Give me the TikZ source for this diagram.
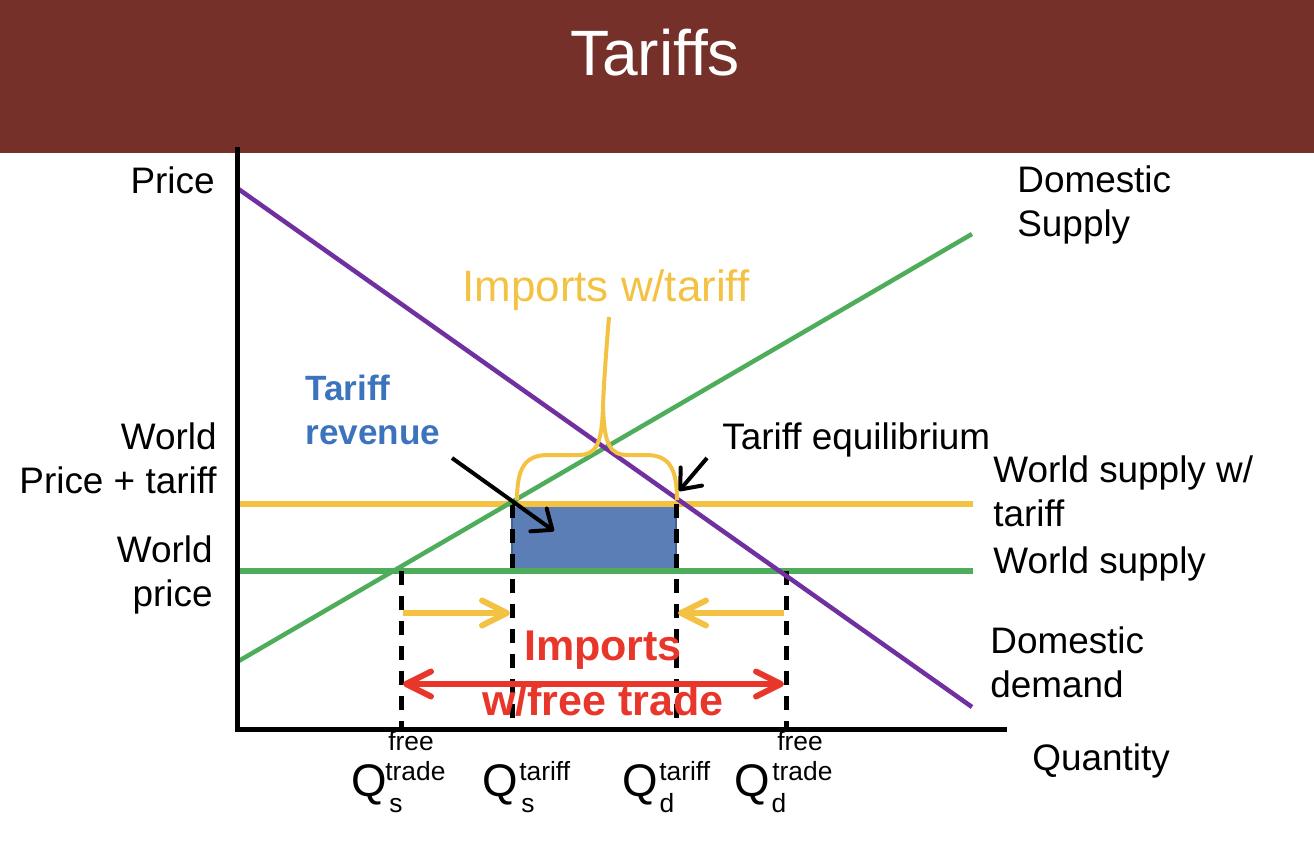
\documentclass[tikz,border=0pt]{standalone}
\usepackage{fontspec}
\setmainfont{Liberation Sans}
\usetikzlibrary{arrows.meta}
\definecolor{titlebg}{HTML}{76302A}
\definecolor{dem}{HTML}{7030A0}
\definecolor{sup}{HTML}{4EAD5B}
\definecolor{gold}{HTML}{F4C242}
\definecolor{rev}{HTML}{5A7EB5}
\definecolor{revedge}{HTML}{41618F}
\definecolor{revtxt}{HTML}{3B73BD}
\definecolor{imp}{HTML}{E8362B}
\tikzset{
  lbl/.style={inner sep=0pt, font=\fontsize{21}{25}\selectfont},
  qbig/.style={inner sep=0pt, font=\fontsize{26}{30}\selectfont},
  qsml/.style={inner sep=0pt, font=\fontsize{15}{17}\selectfont},
  axisline/.style={line width=0.1cm, black},
  curve/.style={line width=0.09cm},
  worldline/.style={line width=0.13cm},
  dropline/.style={line width=0.1cm, black, dash pattern=on 0.28cm off 0.22cm},
  barb/.style={-{Straight Barb[length=0.5cm, width=0.5cm, round]}},
  dblbarb/.style={{Straight Barb[length=0.5cm, width=0.5cm, round]}-{Straight Barb[length=0.5cm, width=0.5cm, round]}},
  pointer/.style={line width=0.08cm, black, -{Straight Barb[length=0.34cm, width=0.56cm, round]}},
}
\begin{document}
\begin{tikzpicture}[x=0.02cm, y=-0.02cm]
\useasboundingbox (0,0) rectangle (1314,848);
% title bar
\fill[titlebg] (0,0) rectangle (1314,153);
\node[inner sep=0pt, text=white, font=\fontsize{36.5}{42}\selectfont, anchor=base] (title) at (655,76) {Tariffs};

% coordinates
\coordinate (O) at (237,729);
\coordinate (ytop) at (237,147);
\coordinate (xend) at (1007,729);
\coordinate (dA) at (237,188);
\coordinate (dB) at (972,707);
\coordinate (sA) at (237,662);
\coordinate (sB) at (972,234);
\coordinate (wtA) at (237,504);
\coordinate (wtB) at (973,504);
\coordinate (wA) at (237,571);
\coordinate (wB) at (973,571);

% tariff revenue rectangle
\filldraw[fill=rev, draw=revedge, line width=0.04cm] (512,504) rectangle (676,571);

% world lines
\draw[worldline, gold] (wtA) -- (wtB);
\draw[worldline, sup] (wA) -- (wB);

% dashed drop lines
\coordinate (q1t) at (401,571); \coordinate (q1b) at (401,727);
\coordinate (q2t) at (512,504); \coordinate (q2b) at (512,727);
\coordinate (q3t) at (676,504); \coordinate (q3b) at (676,727);
\coordinate (q4t) at (786,571); \coordinate (q4b) at (786,727);
\draw[dropline] (q1t) -- (q1b);
\draw[dropline] (q2t) -- (q2b);
\draw[dropline] (q3t) -- (q3b);
\draw[dropline] (q4t) -- (q4b);

% supply and demand
\draw[curve, sup] (sA) -- (sB);
\draw[curve, dem] (dA) -- (dB);

% axes
\draw[axisline] (ytop) -- (O) -- (xend);

% yellow arrows
\coordinate (ya1) at (403,613); \coordinate (ya2) at (510,613);
\coordinate (yb1) at (784,613); \coordinate (yb2) at (678,613);
\draw[gold, line width=0.12cm, barb] (ya1) -- (ya2);
\draw[gold, line width=0.12cm, barb] (yb1) -- (yb2);

% red double arrow
\coordinate (ra1) at (403,684); \coordinate (ra2) at (784,684);
\draw[imp, line width=0.12cm, dblbarb] (ra1) -- (ra2);

% brace
\coordinate (brL) at (517,500);
\coordinate (brR) at (677,500);
\coordinate (brTip) at (609,317);
\draw[gold, line width=0.08cm, line join=round]
  (brL) .. controls (517,468) and (525,455) .. (548,455) -- (578,455)
  .. controls (596,455) and (602,445) .. (603,405)
  .. controls (604,380) and (607,340) .. (brTip);
\draw[gold, line width=0.08cm, line join=round]
  (brR) .. controls (677,468) and (669,455) .. (646,455) -- (628,455)
  .. controls (610,455) and (604,445) .. (603,405);

% pointers
\coordinate (revS) at (452,458); \coordinate (revT) at (554,531);
\draw[pointer] (revS) -- (revT);
\coordinate (eqS) at (707,458); \coordinate (eqT) at (679,491);
\draw[pointer] (eqS) -- (eqT);

% left labels
\node[lbl, anchor=base east] (price) at (215,193) {Price};
\node[lbl, anchor=base east] (wpt1) at (217,449) {World};
\node[lbl, anchor=base east] (wpt2) at (217,493) {Price + tariff};
\node[lbl, anchor=base east] (wp1) at (213,562) {World};
\node[lbl, anchor=base east] (wp2) at (213,606) {price};

% right labels
\node[lbl, anchor=base west] (ds1) at (1017,192) {Domestic};
\node[lbl, anchor=base west] (ds2) at (1017,236) {Supply};
\node[lbl, anchor=base west] (wst1) at (993,482) {World supply w/};
\node[lbl, anchor=base west] (wst2) at (993,526) {tariff};
\node[lbl, anchor=base west] (ws) at (993,573) {World supply};
\node[lbl, anchor=base west] (dd1) at (990,653) {Domestic};
\node[lbl, anchor=base west] (dd2) at (990,697) {demand};
\node[lbl, anchor=base west] (qty) at (1032,770) {Quantity};

% middle labels
\node[inner sep=0pt, text=gold, font=\fontsize{25}{29}\selectfont, anchor=base] (impt) at (606,301) {Imports w/tariff};
\node[inner sep=0pt, text=revtxt, font=\bfseries\fontsize{20}{24}\selectfont, anchor=base west] (tr1) at (305,400) {Tariff};
\node[inner sep=0pt, text=revtxt, font=\bfseries\fontsize{20}{24}\selectfont, anchor=base west] (tr2) at (305,444) {revenue};
\node[lbl, anchor=base west] (teq) at (722,449) {Tariff equilibrium};
\node[inner sep=0pt, text=imp, font=\bfseries\fontsize{24.5}{28}\selectfont, anchor=base] (ift1) at (603,660) {Imports};
\node[inner sep=0pt, text=imp, font=\bfseries\fontsize{24.5}{28}\selectfont, anchor=base] (ift2) at (603,715) {w/free trade};

% Q labels
\node[qbig, anchor=base] (Q1) at (369,796) {Q};
\node[qsml, anchor=base] (Q1s) at (396,812) {s};
\node[qsml, anchor=base west] (Q1a) at (385,780) {trade};
\node[qsml, anchor=base west] (Q1b) at (388,750) {free};

\node[qbig, anchor=base] (Q2) at (500,796) {Q};
\node[qsml, anchor=base] (Q2s) at (528,812) {s};
\node[qsml, anchor=base west] (Q2a) at (519,780) {tariff};

\node[qbig, anchor=base] (Q3) at (640,796) {Q};
\node[qsml, anchor=base] (Q3s) at (667,812) {d};
\node[qsml, anchor=base west] (Q3a) at (659,780) {tariff};

\node[qbig, anchor=base] (Q4) at (752,796) {Q};
\node[qsml, anchor=base] (Q4s) at (779,812) {d};
\node[qsml, anchor=base west] (Q4a) at (772,780) {trade};
\node[qsml, anchor=base west] (Q4b) at (777,750) {free};
\end{tikzpicture}
\end{document}
